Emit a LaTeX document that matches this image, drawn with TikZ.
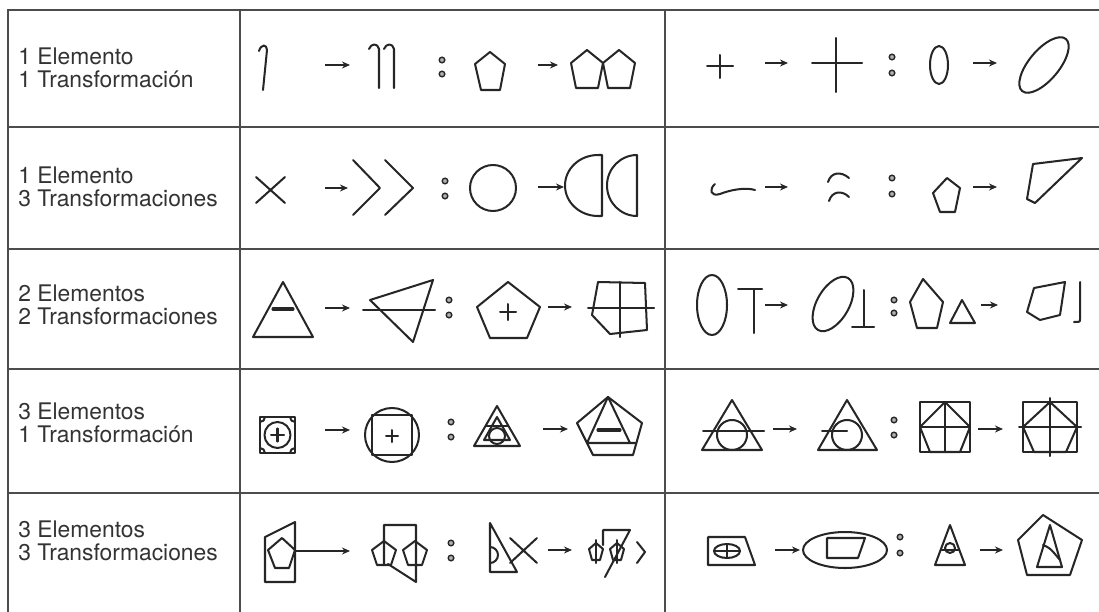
\documentclass[tikz,border=0pt]{standalone}
\usepackage{fontspec}
\newfontfamily\lblfont{TeX Gyre Heros}
\usetikzlibrary{arrows.meta}

% two small rings standing for "is to"
\newcommand{\dotpair}[3]{%
  \filldraw[dot] (#1,#2) circle[radius=2.8];
  \filldraw[dot] (#1,#3) circle[radius=2.8];}

\begin{document}
\begin{tikzpicture}[x=0.02cm, y=-0.02cm,
    rule/.style={line width=1pt, draw=black!70},
    fig/.style={line width=1.15pt, draw=black!85, line join=round, line cap=round},
    arr/.style={line width=1.15pt, draw=black!85, -{Stealth[length=1.6mm, width=1.4mm]}},
    lbl/.style={font={\lblfont\fontsize{13}{12.8}\selectfont}, align=left, anchor=west, inner sep=0pt, text=black!80},
    dot/.style={line width=0.8pt, draw=black!85, fill=black!30}
  ]
  \useasboundingbox (0,0) rectangle (1099,612);

  % table
  \draw[rule] (8,612) -- (8,10) -- (1099,10);
  \foreach \y in {127,249,369,493} { \draw[rule] (8,\y) -- (1099,\y); }
  \foreach \x in {240,665} { \draw[rule] (\x,10) -- (\x,612); }

  \node[lbl] (r1) at (18,68) {1 Elemento\\1 Transformación};
  \node[lbl] (r2) at (18,187) {1 Elemento\\3 Transformaciones};
  \node[lbl] (r3) at (18,305) {2 Elementos\\2 Transformaciones};
  \node[lbl] (r4) at (18,423) {3 Elementos\\1 Transformación};
  \node[lbl] (r5) at (18,541) {3 Elementos\\3 Transformaciones};

  % row 1
  \draw[fig] (259,51) .. controls (261,44) and (267,44) .. (267,50) -- (263,90);
  \draw[arr] (325,65) -- (350,65);
  \draw[fig] (369,49) .. controls (371,43) and (378,43) .. (379,49) -- (379,88);
  \draw[fig] (384,49) .. controls (386,43) and (393,43) .. (394,49) -- (394,88);
  \dotpair{442}{60}{74}
  \draw[fig] (490,52) -- (505,64) -- (500,90) -- (481,90) -- (475,64) -- cycle;
  \draw[arr] (538,65) -- (558,65);
  \draw[fig] (587,50) -- (603,63) -- (598,88) -- (576,88) -- (571,63) -- cycle;
  \draw[fig] (619,50) -- (635,63) -- (630,88) -- (608,88) -- (603,63) -- cycle;

  \draw[fig] (707,66) -- (733,66) (720,55) -- (720,78);
  \draw[arr] (765,63) -- (788,63);
  \draw[fig] (812,63) -- (862,63) (836,38) -- (836,92);
  \dotpair{892}{57}{73}
  \draw[fig] (939,65) circle[x radius=9, y radius=19];
  \draw[arr] (973,63) -- (997,63);
  \draw[fig, rotate around={50:(1044,65)}] (1044,65) circle[x radius=34, y radius=15];

  % row 2
  \draw[fig] (256,177) -- (285,203) (256,203) -- (285,177);
  \draw[arr] (325,188) -- (348,188);
  \draw[fig] (353,160) -- (380,188) -- (353,215);
  \draw[fig] (385,160) -- (413,188) -- (385,215);
  \dotpair{445}{181}{196}
  \draw[fig] (493,188) circle[radius=23];
  \draw[arr] (538,187) -- (564,187);
  \draw[fig] (602,155) -- (602,216) -- (598,216) arc[start angle=90, end angle=270, x radius=33, y radius=30.5] -- cycle;
  \draw[fig] (637,155) -- (637,216) arc[start angle=90, end angle=270, x radius=30, y radius=30.5];

  \draw[fig] (715,184) .. controls (709,189) and (710,197) .. (720,194) .. controls (730,190) and (745,187) .. (755,190);
  \draw[arr] (765,187) -- (788,187);
  \draw[fig] (828,182) .. controls (831,172) and (841,171) .. (849,178);
  \draw[fig] (829,201) .. controls (832,191) and (842,190) .. (849,197);
  \dotpair{892}{178}{194}
  \draw[fig] (947,178) -- (960,188) -- (955,212) -- (940,212) -- (933,193) -- cycle;
  \draw[arr] (973,187) -- (997,187);
  \draw[fig] (1033,164) -- (1082,158) -- (1035,203) -- (1027,199) -- cycle;

  % row 3
  \draw[fig] (283,282) -- (313,337) -- (253,337) -- cycle;
  \draw[fig, line width=1.8pt] (273,309) -- (293,309);
  \draw[arr] (325,308) -- (350,308);
  \draw[fig] (370,300) -- (433,280) -- (413,342) -- cycle;
  \draw[fig] (363,310) -- (435,310);
  \dotpair{449}{300}{315}
  \draw[fig] (508,282) -- (540,307) -- (527,338) -- (490,338) -- (477,307) -- cycle;
  \draw[fig] (500,312) -- (516,312) (508,304) -- (508,320);
  \draw[arr] (548,307) -- (572,307);
  \draw[fig] (598,282) -- (645,283) -- (647,330) -- (610,334) -- (592,315) -- cycle;
  \draw[fig] (588,308) -- (654,308) (620,282) -- (620,337);

  \draw[fig] (712,305) circle[x radius=15, y radius=30];
  \draw[fig] (738,289) -- (762,289) (754,289) -- (754,333);
  \draw[arr] (765,305) -- (788,305);
  \draw[fig, rotate around={60:(833,304)}] (833,304) circle[x radius=30, y radius=16];
  \draw[fig] (864,290) -- (864,327) (852,327) -- (874,327);
  \dotpair{894}{300}{313}
  \draw[fig] (923,279) -- (943,302) -- (937,328) -- (917,328) -- (910,302) -- cycle;
  \draw[fig] (962,300) -- (975,323) -- (950,323) -- cycle;
  \draw[arr] (981,305) -- (998,305);
  \draw[fig] (1034,288) -- (1065,282) -- (1060,315) -- (1040,320) -- (1027,312) -- cycle;
  \draw[fig] (1080,282) -- (1080,319) .. controls (1080,322) .. (1074,322);

  % row 4
  \draw[fig] (260,417) rectangle (295,453);
  \draw[fig] (277.5,435) circle[radius=13];
  \draw[fig] (271,435) -- (284,435) (277.5,428.5) -- (277.5,441.5);
  \draw[fig] (265,417) arc[start angle=0, end angle=90, radius=5];
  \draw[fig] (295,422) arc[start angle=90, end angle=180, radius=5];
  \draw[fig] (290,453) arc[start angle=180, end angle=270, radius=5];
  \draw[fig] (260,448) arc[start angle=270, end angle=360, radius=5];
  \draw[arr] (325,430) -- (350,430);
  \draw[fig] (392,435) circle[radius=27];
  \draw[fig] (372,415) rectangle (412,455);
  \draw[fig] (386,436) -- (398,436) (392,430) -- (392,442);
  \dotpair{451}{422}{437}
  \draw[fig] (497,406) -- (520,446) -- (474,446) -- cycle;
  \draw[fig] (497,417) -- (510,440) -- (484,440) -- cycle;
  \draw[fig] (497,436) circle[radius=8];
  \draw[fig] (486,426) -- (508,426);
  \draw[arr] (543,429) -- (568,429);
  \draw[fig] (608,397) -- (642,423) -- (633,455) -- (593,455) -- (577,423) -- cycle;
  \draw[fig] (608,397) -- (587,443) -- (636,443) (608,397) -- (630,443);
  \draw[fig, line width=1.8pt] (598,430) -- (620,430);

  \draw[fig] (732,400) -- (762,450) -- (702,450) -- cycle;
  \draw[fig] (732,435) circle[radius=15];
  \draw[fig] (703,431) -- (764,431);
  \draw[arr] (773,429) -- (797,429);
  \draw[fig] (847,400) -- (877,450) -- (818,450) -- cycle;
  \draw[fig] (847,435) circle[radius=15];
  \draw[fig] (822,431) -- (847,431);
  \dotpair{894}{420}{435}
  \draw[fig] (920,402) rectangle (970,452);
  \draw[fig] (945,402) -- (970,427) -- (960,452) -- (930,452) -- (920,427) -- cycle;
  \draw[fig] (945,402) -- (945,452) (920,427) -- (970,427);
  \draw[arr] (978,429) -- (1003,429);
  \draw[fig] (1023,402) rectangle (1077,452);
  \draw[fig] (1050,402) -- (1077,427) -- (1066,452) -- (1034,452) -- (1023,427) -- cycle;
  \draw[fig] (1050,398) -- (1050,456) (1019,427) -- (1081,427);

  % row 5
  \draw[fig] (265,537) -- (295,522) -- (295,582) -- (265,582) -- cycle;
  \draw[fig] (282,538) -- (295,550) -- (289,568) -- (275,568) -- (268,550) -- cycle;
  \draw[arr] (295,551) -- (350,551);
  \draw[fig] (384,565) -- (384,525) -- (416,525) -- (416,582) -- (388,564);
  \draw[fig] (384,541) -- (396,550) -- (391,565) -- (377,565) -- (372,550) -- cycle;
  \draw[fig] (415,541) -- (427,550) -- (422,565) -- (408,565) -- (403,550) -- cycle;
  \dotpair{451}{543}{558}
  \draw[fig] (490,523) -- (490,572) -- (517,572) -- cycle;
  \draw[fig] (490,547) arc[start angle=-90, end angle=90, radius=8];
  \draw[fig] (510,538) -- (537,563) (510,563) -- (537,538);
  \draw[arr] (548,550) -- (572,550);
  \draw[fig] (603,545) -- (603,530) -- (630,530) -- (605,577);
  \draw[fig] (596,543) -- (603,549) -- (600,560) -- (592,560) -- (589,549) -- cycle;
  \draw[fig] (617,543) -- (624,549) -- (621,560) -- (613,560) -- (610,549) -- cycle;
  \draw[fig] (596,540) -- (596,563) (617,540) -- (617,563);
  \draw[fig] (637,542) -- (645,552) -- (637,563);

  \draw[fig] (708,537) -- (745,537) -- (755,565) -- (708,565) -- cycle;
  \draw[fig] (727,551) circle[x radius=13, y radius=7];
  \draw[fig] (714,551) -- (740,551) (727,545) -- (727,557);
  \draw[arr] (775,550) -- (800,550);
  \draw[fig] (845,550) circle[x radius=42, y radius=18];
  \draw[fig] (827,538) -- (865,538) -- (858,558) -- (827,558) -- cycle;
  \dotpair{900}{537}{553}
  \draw[fig] (950,525) -- (965,565) -- (935,565) -- cycle;
  \draw[fig] (950,548) circle[radius=5];
  \draw[fig] (941,550) -- (959,550);
  \draw[arr] (980,550) -- (1003,550);
  \draw[fig] (1043,515) -- (1082,540) -- (1070,575) -- (1027,575) -- (1018,540) -- cycle;
  \draw[fig] (1050,525) -- (1062,567) -- (1037,567) -- cycle;
  \draw[fig] (1043,545) .. controls (1050,548) .. (1060,560);
\end{tikzpicture}
\end{document}
